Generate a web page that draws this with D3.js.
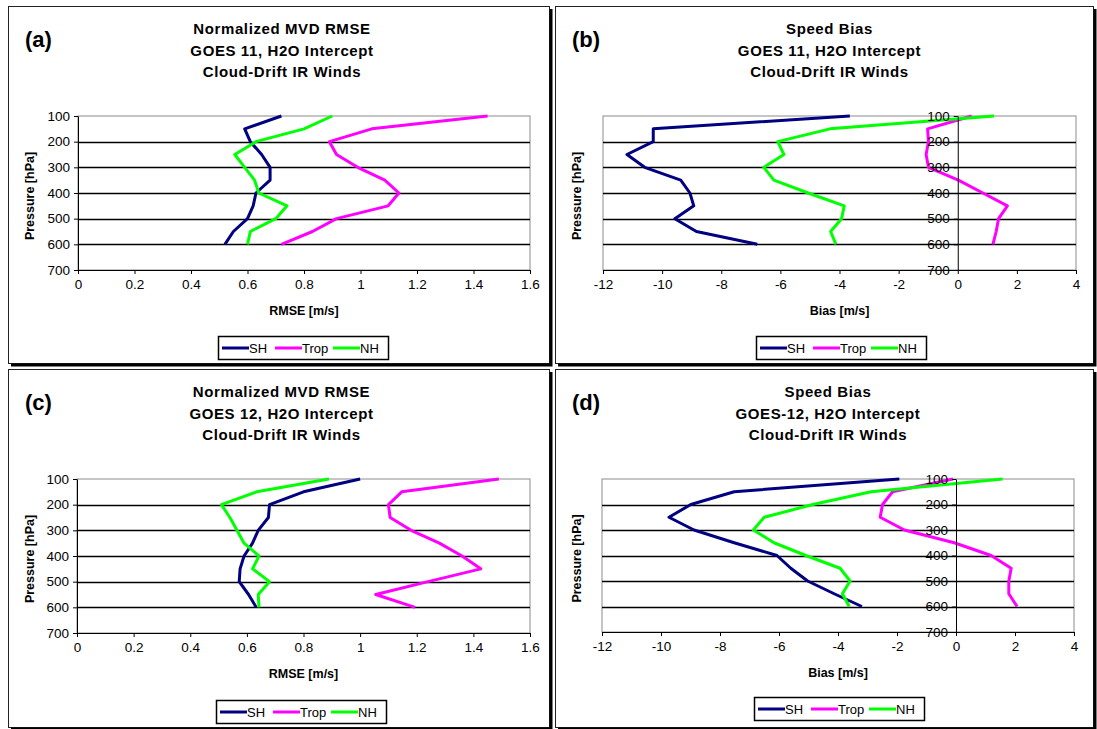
<!DOCTYPE html>
<html>
<head>
<meta charset="utf-8">
<script src="https://d3js.org/d3.v7.min.js"></script>
<style>
  body { margin: 0; background: #fff; }
  text { font-family: "Liberation Sans", Arial, sans-serif; fill: #000; }
</style>
</head>
<body>
<svg id="chart" width="1097" height="729"></svg>
<script>
// pressure levels (hPa) shared by every profile
var pressure = [100, 150, 200, 250, 300, 350, 400, 450, 500, 550, 600]
var pressureTicks = [100, 200, 300, 400, 500, 600, 700]
var gridLevels = [200, 300, 400, 500, 600]
var rmseTicks = [0, 0.2, 0.4, 0.6, 0.8, 1, 1.2, 1.4, 1.6]
var biasTicks = [-12, -10, -8, -6, -4, -2, 0, 2, 4]
var seriesNames = ["SH", "Trop", "NH"]
var seriesColors = ["#000080", "#ff00ff", "#00ff00"]

// (a) GOES 11 normalized RMSE
var rmse11SH   = [0.72, 0.59, 0.61, 0.65, 0.68, 0.68, 0.63, 0.62, 0.60, 0.55, 0.52]
var rmse11Trop = [1.45, 1.04, 0.89, 0.915, 0.99, 1.086, 1.136, 1.098, 0.915, 0.83, 0.72]
var rmse11NH   = [0.90, 0.80, 0.63, 0.555, 0.59, 0.625, 0.64, 0.74, 0.70, 0.61, 0.60]
// (b) GOES 11 speed bias
var bias11SH   = [-3.65, -10.3, -10.3, -11.19, -10.59, -9.37, -9.06, -8.93, -9.57, -8.84, -6.78]
var bias11Trop = [0.47, -1.02, -0.99, -1.07, -0.99, 0.02, 0.85, 1.68, 1.38, 1.30, 1.19]
var bias11NH   = [1.23, -4.32, -6.09, -5.88, -6.56, -6.22, -5.06, -3.84, -3.93, -4.30, -4.12]
// (c) GOES 12 normalized RMSE
var rmse12SH   = [1.0, 0.80, 0.68, 0.676, 0.64, 0.62, 0.59, 0.576, 0.573, 0.606, 0.633]
var rmse12Trop = [1.49, 1.147, 1.10, 1.106, 1.18, 1.28, 1.36, 1.426, 1.24, 1.055, 1.194]
var rmse12NH   = [0.89, 0.635, 0.51, 0.54, 0.565, 0.59, 0.643, 0.62, 0.68, 0.64, 0.643]
// (d) GOES 12 speed bias
var bias12SH   = [-1.92, -7.52, -8.99, -9.73, -8.88, -7.52, -6.07, -5.60, -5.03, -4.13, -3.19]
var bias12Trop = [-0.1, -2.15, -2.49, -2.57, -1.75, -0.06, 1.19, 1.87, 1.79, 1.79, 2.07]
var bias12NH   = [1.58, -2.88, -4.85, -6.50, -6.87, -6.17, -5.09, -3.93, -3.59, -3.85, -3.62]

var panels = [
  {tag: "(a)", box: [8, 6, 549, 363], plot: [78, 530, 116, 270], legend: [218, 336],
   titles: ["Normalized MVD RMSE", "GOES 11, H2O Intercept", "Cloud-Drift IR Winds"],
   xTitle: "RMSE [m/s]", domain: [0, 1.6], ticks: rmseTicks, zeroAxis: false,
   series: [rmse11SH, rmse11Trop, rmse11NH]},
  {tag: "(b)", box: [555, 6, 1093, 363], plot: [603, 1076, 116, 270], legend: [756, 336],
   titles: ["Speed Bias", "GOES 11, H2O Intercept", "Cloud-Drift IR Winds"],
   xTitle: "Bias [m/s]", domain: [-12, 4], ticks: biasTicks, zeroAxis: true,
   series: [bias11SH, bias11Trop, bias11NH]},
  {tag: "(c)", box: [8, 369, 549, 727], plot: [77, 530, 479, 633], legend: [216, 700],
   titles: ["Normalized MVD RMSE", "GOES 12, H2O Intercept", "Cloud-Drift IR Winds"],
   xTitle: "RMSE [m/s]", domain: [0, 1.6], ticks: rmseTicks, zeroAxis: false,
   series: [rmse12SH, rmse12Trop, rmse12NH]},
  {tag: "(d)", box: [555, 369, 1093, 727], plot: [602, 1074, 479, 632], legend: [754, 697],
   titles: ["Speed Bias", "GOES-12, H2O Intercept", "Cloud-Drift IR Winds"],
   xTitle: "Bias [m/s]", domain: [-12, 4], ticks: biasTicks, zeroAxis: true,
   series: [bias12SH, bias12Trop, bias12NH]}
]

var svg = d3.select("#chart")
svg.append("rect").attr("width", 1097).attr("height", 729).attr("fill", "#fff")

panels.forEach(function (p) {
  var g = svg.append("g")
  var bx0 = p.box[0], by0 = p.box[1], bx1 = p.box[2], by1 = p.box[3]

  // chart area frame with shadow
  g.append("rect").attr("x", bx0 + 0.5).attr("y", by0 + 0.5)
    .attr("width", bx1 - bx0).attr("height", by1 - by0)
    .attr("fill", "#fff").attr("stroke", "#222").attr("stroke-width", 1)
  g.append("path")
    .attr("d", "M" + (bx1 + 2) + "," + (by0 + 3) + "V" + (by1 + 2) + "H" + (bx0 + 3))
    .attr("fill", "none").attr("stroke", "#000").attr("stroke-width", 3)

  var l = p.plot[0], r = p.plot[1], t = p.plot[2], b = p.plot[3]
  var x = d3.scaleLinear().domain(p.domain).range([l, r])
  var y = d3.scaleLinear().domain([100, 700]).range([t, b])

  // plot area border and grid
  g.append("rect").attr("x", l).attr("y", t).attr("width", r - l).attr("height", b - t)
    .attr("fill", "#fff").attr("stroke", "#8c8c8c").attr("stroke-width", 1)
  g.selectAll(".grid").data(gridLevels).enter().append("line")
    .attr("x1", l).attr("x2", r)
    .attr("y1", function (d) { return Math.round(y(d)) + 0.5 })
    .attr("y2", function (d) { return Math.round(y(d)) + 0.5 })
    .attr("stroke", "#000").attr("stroke-width", 1.3)

  // x axis
  var xAxis = d3.axisBottom(x).tickValues(p.ticks).tickSize(4).tickSizeOuter(0)
    .tickPadding(5).tickFormat(function (d) { return String(d) })
  var xg = g.append("g").attr("transform", "translate(0," + b + ")").call(xAxis)
  xg.selectAll("text").style("font-size", "13.5px")

  // profiles
  var line = d3.line()
    .x(function (d) { return x(d[0]) })
    .y(function (d) { return y(d[1]) })
  p.series.forEach(function (vals, i) {
    g.append("path")
      .datum(vals.map(function (v, k) { return [v, pressure[k]] }))
      .attr("d", line)
      .attr("fill", "none")
      .attr("stroke", seriesColors[i])
      .attr("stroke-width", 3)
      .attr("stroke-linejoin", "round")
  })

  // y axis (at zero for bias panels)
  var ax = p.zeroAxis ? x(0) : l
  var yAxis = d3.axisLeft(y).tickValues(pressureTicks).tickSize(4).tickSizeOuter(0).tickPadding(4)
  var yg = g.append("g").attr("transform", "translate(" + ax + ",0)").call(yAxis)
  yg.selectAll("text").style("font-size", "13.5px")
  yg.select(".domain").attr("stroke", "#000")

  // titles
  var cx = (l + r) / 2
  var tcx = p.zeroAxis ? cx - 10 : cx - 22
  g.selectAll(".title").data(p.titles).enter().append("text")
    .attr("x", tcx)
    .attr("y", function (d, i) { return by0 + 28 + i * 21.5 })
    .attr("text-anchor", "middle")
    .style("font-size", "15px").style("font-weight", "bold").style("letter-spacing", "0.6px")
    .text(function (d) { return d })
  g.append("text").attr("x", bx0 + 17).attr("y", by0 + 41)
    .style("font-size", "22px").style("font-weight", "bold").text(p.tag)

  // axis titles
  g.append("text").attr("x", cx).attr("y", b + 45).attr("text-anchor", "middle")
    .style("font-size", "12.5px").style("font-weight", "bold").text(p.xTitle)
  g.append("text")
    .attr("transform", "translate(" + (bx0 + 26) + "," + ((t + b) / 2 + 3) + ") rotate(-90)")
    .attr("text-anchor", "middle")
    .style("font-size", "12.5px").style("font-weight", "bold").text("Pressure [hPa]")

  // legend
  var lx = p.legend[0], ly = p.legend[1]
  var lg = g.append("g").attr("transform", "translate(" + lx + "," + ly + ")")
  lg.append("rect").attr("x", 0.5).attr("y", 0.5).attr("width", 170).attr("height", 23)
    .attr("fill", "#fff").attr("stroke", "#000").attr("stroke-width", 1.5)
  var offs = [4, 57, 115]
  seriesNames.forEach(function (name, i) {
    lg.append("line").attr("x1", offs[i]).attr("x2", offs[i] + 27)
      .attr("y1", 12).attr("y2", 12)
      .attr("stroke", seriesColors[i]).attr("stroke-width", 3)
    lg.append("text").attr("x", offs[i] + 27).attr("y", 17)
      .style("font-size", "13px").text(name)
  })
})
</script>
</body>
</html>
